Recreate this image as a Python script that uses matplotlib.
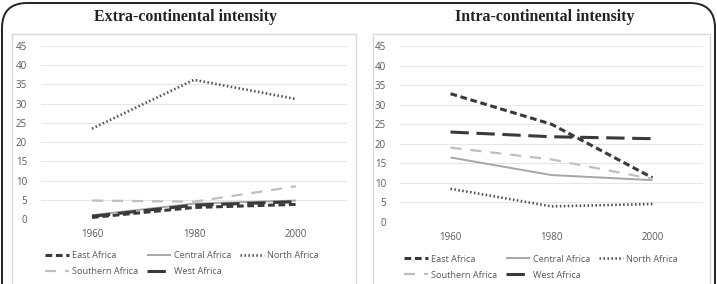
import matplotlib
matplotlib.use("Agg")
import matplotlib.pyplot as plt
from matplotlib.patches import FancyBboxPatch, Rectangle

# ── data ────────────────────────────────────────────
years = ["1960", "1980", "2000"]
regions = ["East Africa", "Central Africa", "North Africa", "Southern Africa", "West Africa"]

extra_east = [0.4, 3.0, 3.8]
extra_central = [1.0, 4.0, 4.8]
extra_north = [23.5, 36.2, 31.2]
extra_southern = [4.8, 4.5, 8.5]
extra_west = [0.7, 3.6, 4.5]

intra_east = [32.8, 25.0, 11.3]
intra_central = [16.5, 12.0, 10.7]
intra_north = [8.5, 4.0, 4.6]
intra_southern = [19.0, 16.0, 11.0]
intra_west = [23.0, 21.8, 21.3]

# ── styles (Excel-like greyscale) ───────────────────
STYLES = {
    "East Africa": dict(color="#3a3a3a", lw=2.2, dashes=(2.2, 1.2)),
    "Central Africa": dict(color="#a6a6a6", lw=1.4, linestyle="-"),
    "North Africa": dict(color="#555555", lw=1.9, dashes=(0.6, 0.9)),
    "Southern Africa": dict(color="#bfbfbf", lw=1.6, dashes=(5, 4)),
    "West Africa": dict(color="#3a3a3a", lw=2.2, dashes=(6, 2.5)),
}

W, H = 717, 284
fig = plt.figure(figsize=(W / 100, H / 100), dpi=100)
fig.patch.set_facecolor("white")

# outer rounded frame
fig.patches.append(FancyBboxPatch((2 / W, -0.2), (W - 4) / W, 1.2 - 3 / H,
                                  boxstyle="round,pad=0,rounding_size=0.035",
                                  transform=fig.transFigure, fill=False,
                                  edgecolor="#222222", linewidth=1.4,
                                  mutation_aspect=W / H))


def px(x0, y0, x1, y1):
    return [x0 / W, 1 - y1 / H, (x1 - x0) / W, (y1 - y0) / H]


panels = [
    ("Extra-continental intensity",
     [extra_east, extra_central, extra_north, extra_southern, extra_west],
     (12, 34, 356, 300), (41, 46, 347, 219), 185),
    ("Intra-continental intensity",
     [intra_east, intra_central, intra_north, intra_southern, intra_west],
     (373, 34, 710, 300), (400, 46, 703, 222), 545),
]

for title, series, box, area, tx in panels:
    # light chart-area border
    bx0, by0, bx1, by1 = box
    fig.patches.append(Rectangle((bx0 / W, 1 - by1 / H), (bx1 - bx0) / W, (by1 - by0) / H,
                                 transform=fig.transFigure, fill=False,
                                 edgecolor="#d9d9d9", linewidth=1.0))
    fig.text(tx / W, 1 - 17 / H, title, ha="center", va="center",
             fontsize=11.4, fontweight="bold", family="Liberation Serif", color="#222222")

    ax = fig.add_axes(px(*area))
    x = range(len(years))
    handles = {}
    for name, vals in zip(regions, series):
        st = dict(STYLES[name])
        ln, = ax.plot(x, vals, label=name, solid_capstyle="butt",
                      dash_capstyle="butt", **st)
        handles[name] = ln

    ax.set_xlim(-0.5, 2.5)
    ax.set_ylim(0, 45)
    ax.set_yticks(range(0, 50, 5))
    ax.set_xticks(list(x))
    ax.set_xticklabels(years)
    ax.grid(axis="y", color="#e6e6e6", linewidth=0.8)
    ax.set_axisbelow(True)
    for s in ax.spines.values():
        s.set_visible(False)
    ax.tick_params(length=0, labelsize=7, labelcolor="#595959", pad=10)
    ax.tick_params(axis="x", pad=7)
    for lab in ax.get_xticklabels() + ax.get_yticklabels():
        lab.set_family("Open Sans")

    order = ["East Africa", "Southern Africa", "Central Africa", "West Africa", "North Africa"]
    leg = ax.legend([handles[n] for n in order], order, ncol=3,
                    loc="upper left", bbox_to_anchor=(0.0, -0.165),
                    frameon=False, handlelength=2.7,
                    handletextpad=0.3, columnspacing=0.9, labelspacing=0.75,
                    borderaxespad=0, prop={"family": "Open Sans", "size": 6.6})
    for t in leg.get_texts():
        t.set_color("#595959")

fig.savefig("out.png", dpi=100, facecolor="white")
